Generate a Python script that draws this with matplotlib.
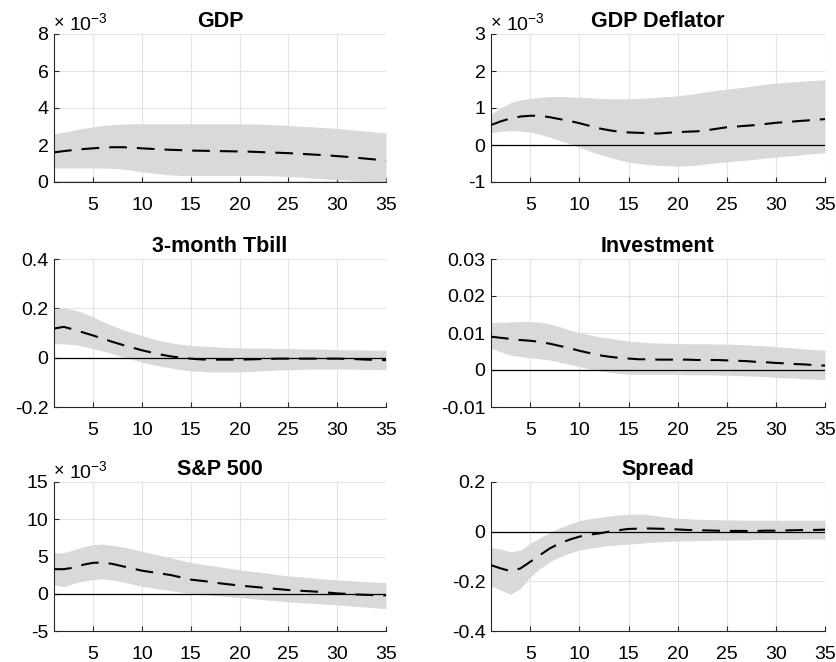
import numpy as np
import matplotlib
matplotlib.use("Agg")
import matplotlib.pyplot as plt
from matplotlib.ticker import FuncFormatter

plt.rcParams['font.family'] = ['Liberation Sans', 'DejaVu Sans']
plt.rcParams['axes.unicode_minus'] = False
plt.rcParams['mathtext.fontset'] = 'custom'
plt.rcParams['mathtext.rm'] = 'Liberation Sans'
plt.rcParams['mathtext.default'] = 'regular'

horizon = list(range(1, 36))
titles = ["GDP", "GDP Deflator", "3-month Tbill", "Investment", "S&P 500", "Spread"]

# GDP (x1e-3)
gdp_med = [1.60, 1.67, 1.73, 1.78, 1.82, 1.86, 1.88, 1.88, 1.86, 1.82, 1.79, 1.76, 1.74, 1.72, 1.70,
           1.69, 1.68, 1.67, 1.66, 1.65, 1.64, 1.62, 1.60, 1.58, 1.56, 1.53, 1.50, 1.47, 1.44, 1.40,
           1.36, 1.31, 1.26, 1.21, 1.15]
gdp_up = [2.60, 2.70, 2.80, 2.90, 2.98, 3.05, 3.10, 3.13, 3.15, 3.15, 3.15, 3.15, 3.15, 3.15, 3.15,
          3.15, 3.15, 3.15, 3.15, 3.15, 3.14, 3.12, 3.10, 3.08, 3.05, 3.02, 2.99, 2.96, 2.93, 2.90,
          2.85, 2.80, 2.75, 2.70, 2.65]
gdp_lo = [0.76, 0.76, 0.76, 0.76, 0.76, 0.75, 0.74, 0.70, 0.63, 0.55, 0.49, 0.43, 0.38, 0.35, 0.35,
          0.35, 0.35, 0.35, 0.35, 0.35, 0.35, 0.35, 0.34, 0.32, 0.30, 0.27, 0.23, 0.20, 0.16, 0.13,
          0.10, 0.08, 0.06, 0.05, 0.04]

# GDP Deflator (x1e-3)
defl_med = [0.54, 0.64, 0.72, 0.77, 0.79, 0.79, 0.75, 0.70, 0.65, 0.59, 0.52, 0.45, 0.40, 0.36, 0.34,
            0.33, 0.32, 0.31, 0.33, 0.35, 0.36, 0.37, 0.40, 0.44, 0.48, 0.50, 0.52, 0.54, 0.57, 0.60,
            0.62, 0.64, 0.66, 0.68, 0.70]
defl_up = [0.84, 1.00, 1.15, 1.22, 1.26, 1.29, 1.31, 1.31, 1.30, 1.29, 1.28, 1.26, 1.25, 1.25, 1.25,
           1.26, 1.27, 1.29, 1.31, 1.33, 1.36, 1.40, 1.44, 1.48, 1.51, 1.54, 1.57, 1.61, 1.64, 1.67,
           1.69, 1.71, 1.73, 1.75, 1.76]
defl_lo = [0.33, 0.37, 0.39, 0.38, 0.35, 0.29, 0.21, 0.12, 0.03, -0.06, -0.16, -0.25, -0.33, -0.40, -0.46,
           -0.50, -0.53, -0.55, -0.56, -0.57, -0.56, -0.54, -0.51, -0.48, -0.46, -0.43, -0.41, -0.38, -0.35, -0.33,
           -0.30, -0.28, -0.25, -0.23, -0.21]

# 3-month Tbill
tb_med = [0.118, 0.125, 0.114, 0.102, 0.090, 0.077, 0.064, 0.052, 0.041, 0.030, 0.021, 0.012, 0.005, 0.000, -0.004,
          -0.007, -0.008, -0.008, -0.008, -0.008, -0.007, -0.006, -0.005, -0.004, -0.004, -0.004, -0.004, -0.004, -0.004, -0.004,
          -0.005, -0.006, -0.008, -0.009, -0.010]
tb_up = [0.200, 0.201, 0.195, 0.182, 0.165, 0.147, 0.130, 0.114, 0.101, 0.090, 0.078, 0.068, 0.060, 0.054, 0.050,
         0.047, 0.045, 0.043, 0.041, 0.040, 0.039, 0.039, 0.038, 0.037, 0.037, 0.036, 0.035, 0.035, 0.034, 0.033,
         0.032, 0.032, 0.031, 0.030, 0.030]
tb_lo = [0.057, 0.056, 0.053, 0.046, 0.037, 0.027, 0.016, 0.004, -0.007, -0.018, -0.027, -0.035, -0.042, -0.049, -0.054,
         -0.056, -0.058, -0.058, -0.058, -0.058, -0.056, -0.054, -0.052, -0.050, -0.049, -0.048, -0.047, -0.046, -0.046, -0.046,
         -0.046, -0.047, -0.048, -0.048, -0.049]

# Investment
inv_med = [0.0090, 0.0087, 0.0084, 0.0081, 0.0079, 0.0076, 0.0071, 0.0065, 0.0059, 0.0052, 0.0046, 0.0040, 0.0036, 0.0033, 0.0031,
           0.0029, 0.0029, 0.0028, 0.0028, 0.0028, 0.0028, 0.0027, 0.0027, 0.0027, 0.0026, 0.0025, 0.0024, 0.0022, 0.0021, 0.0019,
           0.0018, 0.0016, 0.0015, 0.0013, 0.0012]
inv_up = [0.0128, 0.0129, 0.0130, 0.0131, 0.0131, 0.0129, 0.0124, 0.0117, 0.0108, 0.0101, 0.0095, 0.0090, 0.0086, 0.0082, 0.0078,
          0.0076, 0.0074, 0.0073, 0.0072, 0.0072, 0.0071, 0.0071, 0.0071, 0.0070, 0.0070, 0.0069, 0.0068, 0.0066, 0.0065, 0.0063,
          0.0061, 0.0059, 0.0057, 0.0055, 0.0054]
inv_lo = [0.0059, 0.0049, 0.0040, 0.0036, 0.0033, 0.0030, 0.0027, 0.0021, 0.0015, 0.0009, 0.0003, -0.0002, -0.0006, -0.0009, -0.0011,
          -0.0012, -0.0012, -0.0012, -0.0012, -0.0012, -0.0013, -0.0013, -0.0013, -0.0014, -0.0014, -0.0015, -0.0016, -0.0017, -0.0018, -0.0020,
          -0.0021, -0.0022, -0.0024, -0.0025, -0.0027]

# S&P 500 (x1e-3)
sp_med = [3.3, 3.3, 3.5, 3.9, 4.15, 4.2, 4.0, 3.7, 3.4, 3.1, 2.9, 2.7, 2.5, 2.2, 1.9,
          1.75, 1.6, 1.4, 1.25, 1.1, 0.98, 0.86, 0.74, 0.62, 0.5, 0.42, 0.35, 0.27, 0.16, 0.05,
          -0.02, -0.1, -0.15, -0.19, -0.22]
sp_up = [5.5, 5.5, 5.9, 6.3, 6.6, 6.65, 6.5, 6.3, 6.0, 5.7, 5.4, 5.1, 4.8, 4.5, 4.2,
         4.0, 3.8, 3.6, 3.4, 3.2, 3.05, 2.9, 2.75, 2.55, 2.4, 2.3, 2.2, 2.05, 1.95, 1.85,
         1.78, 1.7, 1.62, 1.55, 1.5]
sp_lo = [1.2, 0.95, 1.4, 1.7, 1.9, 2.0, 1.85, 1.6, 1.3, 1.0, 0.8, 0.6, 0.4, 0.2, 0.05,
         -0.07, -0.18, -0.3, -0.4, -0.5, -0.62, -0.74, -0.86, -0.98, -1.1, -1.18, -1.26, -1.34, -1.42, -1.5,
         -1.6, -1.7, -1.8, -1.9, -2.0]

# Spread
spr_med = [-0.135, -0.148, -0.159, -0.148, -0.121, -0.094, -0.067, -0.047, -0.032, -0.020, -0.012, -0.007, 0.000, 0.006, 0.011,
           0.012, 0.013, 0.012, 0.011, 0.009, 0.007, 0.006, 0.005, 0.004, 0.003, 0.003, 0.003, 0.003, 0.004, 0.004,
           0.005, 0.006, 0.007, 0.007, 0.008]
spr_up = [-0.063, -0.071, -0.081, -0.074, -0.047, -0.024, -0.003, 0.016, 0.031, 0.044, 0.052, 0.058, 0.063, 0.067, 0.070,
          0.071, 0.069, 0.063, 0.058, 0.054, 0.052, 0.050, 0.049, 0.048, 0.047, 0.047, 0.046, 0.046, 0.046, 0.046,
          0.046, 0.046, 0.046, 0.046, 0.046]
spr_lo = [-0.218, -0.236, -0.252, -0.229, -0.182, -0.148, -0.121, -0.101, -0.086, -0.074, -0.067, -0.061, -0.056, -0.053, -0.050,
          -0.047, -0.044, -0.041, -0.039, -0.038, -0.037, -0.036, -0.035, -0.034, -0.034, -0.033, -0.033, -0.032, -0.032, -0.031,
          -0.031, -0.031, -0.030, -0.030, -0.030]

x_ticks = [5, 10, 15, 20, 25, 30, 35]
y_ticks = [
    [0, 2, 4, 6, 8],
    [-1, 0, 1, 2, 3],
    [-0.2, 0, 0.2, 0.4],
    [-0.01, 0, 0.01, 0.02, 0.03],
    [-5, 0, 5, 10, 15],
    [-0.4, -0.2, 0, 0.2],
]
scaled = [True, True, False, False, True, False]

panels = [
    (gdp_med, gdp_up, gdp_lo),
    (defl_med, defl_up, defl_lo),
    (tb_med, tb_up, tb_lo),
    (inv_med, inv_up, inv_lo),
    (sp_med, sp_up, sp_lo),
    (spr_med, spr_up, spr_lo),
]

fig = plt.figure(figsize=(8.37, 6.62), dpi=100)
W, H = 837.0, 662.0
col_x = [(54, 386), (491, 825)]
row_y = [(34, 182), (259, 407), (482, 631)]

def fmt(v, pos):
    return '%.10g' % round(v, 10)

for i, (title, (med, up, lo)) in enumerate(zip(titles, panels)):
    r, c = divmod(i, 2)
    x0, x1 = col_x[c]
    y0, y1 = row_y[r]
    ax = fig.add_axes([x0 / W, 1 - y1 / H, (x1 - x0) / W, (y1 - y0) / H])
    ax.set_axisbelow(True)
    ax.fill_between(horizon, lo, up, color='#d9d9d9', linewidth=0, zorder=1)
    ax.axhline(0, color='black', linewidth=0.9, zorder=2)
    ax.plot(horizon, med, color='black', linestyle=(0, (8.5, 4.8)), linewidth=1.5, zorder=3)
    ax.set_xlim(1, 35)
    yt = y_ticks[i]
    ax.set_ylim(yt[0], yt[-1])
    ax.set_yticks(yt)
    ax.set_xticks(x_ticks)
    ax.yaxis.set_major_formatter(FuncFormatter(fmt))
    ax.grid(True, color='#e3e3e3', linewidth=0.8)
    for s in ['top', 'right']:
        ax.spines[s].set_visible(False)
    for s in ['left', 'bottom']:
        ax.spines[s].set_color('#262626')
        ax.spines[s].set_linewidth(0.8)
    ax.tick_params(axis='both', direction='in', length=3.5, width=0.8, color='#262626',
                   labelsize=14, labelcolor='black')
    ax.tick_params(axis='x', pad=10.5)
    ax.tick_params(axis='y', pad=4)
    ax.set_title(title, fontsize=15.5, fontweight='bold', pad=5)
    if scaled[i]:
        ax.text(0.0, 1.012, '\u00d7', transform=ax.transAxes,
                ha='left', va='bottom', fontsize=13)
        ax.text(0.045, 1.0, r'$10^{-3}$', transform=ax.transAxes,
                ha='left', va='bottom', fontsize=14)

fig.savefig('out.png', dpi=100)
